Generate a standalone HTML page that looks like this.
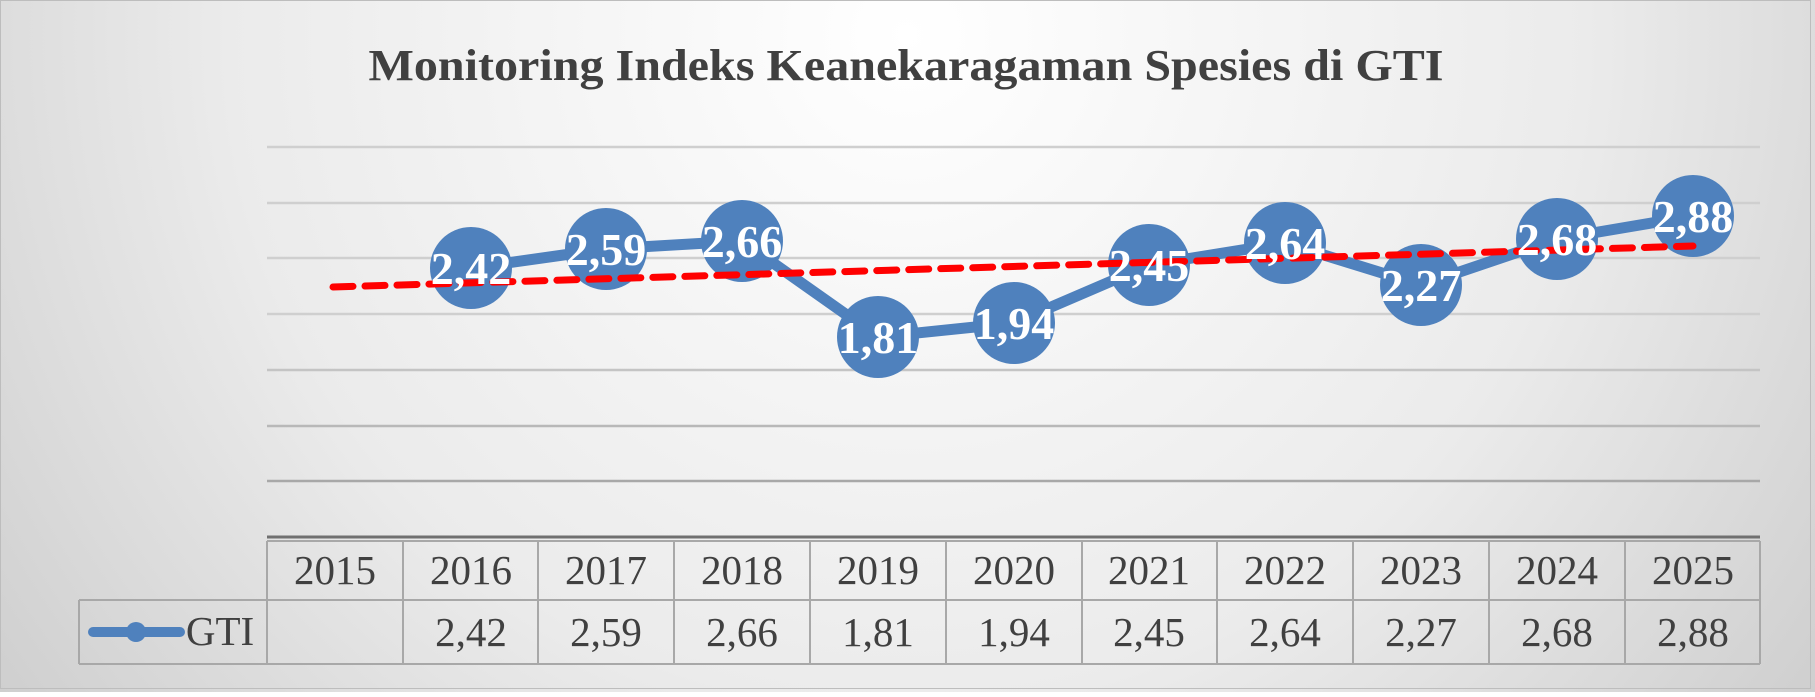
<!DOCTYPE html>
<html><head><meta charset="utf-8"><style>
html,body{margin:0;padding:0;}
body{width:1815px;height:692px;overflow:hidden;}
</style></head><body>
<svg width="1815" height="692" xmlns="http://www.w3.org/2000/svg" font-family="Liberation Serif, serif">
<defs>
<radialGradient id="bg" cx="0.5" cy="0.05" r="0.75" gradientTransform="translate(0.5 0.05) scale(1 2.6) translate(-0.5 -0.05)">
<stop offset="0" stop-color="#ffffff"/>
<stop offset="0.5" stop-color="#ebebeb"/>
<stop offset="1" stop-color="#c0c0c0"/>
</radialGradient>
</defs>
<rect x="0" y="0" width="1815" height="692" fill="url(#bg)"/>
<rect x="0.5" y="0.5" width="1810" height="688" fill="none" stroke="#bdbdbd"/>
<text x="906" y="80" text-anchor="middle" font-size="44" font-weight="bold" fill="#404040" textLength="1075" lengthAdjust="spacingAndGlyphs">Monitoring Indeks Keanekaragaman Spesies di GTI</text>
<g stroke="#cfcfcf" stroke-width="2.5">
<line x1="267" x2="1760" y1="147" y2="147"/>
<line x1="267" x2="1760" y1="203" y2="203"/>
<line x1="267" x2="1760" y1="258" y2="258"/>
<line x1="267" x2="1760" y1="314" y2="314"/>
<line x1="267" x2="1760" y1="370" y2="370" stroke="#c4c4c4"/>
<line x1="267" x2="1760" y1="426" y2="426" stroke="#b8b8b8"/>
<line x1="267" x2="1760" y1="481" y2="481" stroke="#a8a8a8"/>
</g>
<line x1="267" x2="1760" y1="537" y2="537" stroke="#707070" stroke-width="3"/>
<g stroke="#a8a8a8" stroke-width="2" fill="none">
<line x1="267" x2="1760" y1="541" y2="541"/>
<line x1="79" x2="1760" y1="600" y2="600"/>
<line x1="79" x2="1760" y1="664" y2="664"/>
<line x1="79" x2="79" y1="600" y2="664"/>
<line x1="267" x2="267" y1="541" y2="664"/>
<line x1="403" x2="403" y1="541" y2="664"/>
<line x1="538" x2="538" y1="541" y2="664"/>
<line x1="674" x2="674" y1="541" y2="664"/>
<line x1="810" x2="810" y1="541" y2="664"/>
<line x1="946" x2="946" y1="541" y2="664"/>
<line x1="1082" x2="1082" y1="541" y2="664"/>
<line x1="1217" x2="1217" y1="541" y2="664"/>
<line x1="1353" x2="1353" y1="541" y2="664"/>
<line x1="1489" x2="1489" y1="541" y2="664"/>
<line x1="1625" x2="1625" y1="541" y2="664"/>
<line x1="1760" x2="1760" y1="541" y2="664"/>
</g>
<g font-size="41" fill="#404040" text-anchor="middle">
<text x="335" y="584">2015</text><text x="471" y="584">2016</text><text x="606" y="584">2017</text><text x="742" y="584">2018</text><text x="878" y="584">2019</text><text x="1014" y="584">2020</text><text x="1149" y="584">2021</text><text x="1285" y="584">2022</text><text x="1421" y="584">2023</text><text x="1557" y="584">2024</text><text x="1693" y="584">2025</text>
<text x="471" y="646">2,42</text><text x="606" y="646">2,59</text><text x="742" y="646">2,66</text><text x="878" y="646">1,81</text><text x="1014" y="646">1,94</text><text x="1149" y="646">2,45</text><text x="1285" y="646">2,64</text><text x="1421" y="646">2,27</text><text x="1557" y="646">2,68</text><text x="1693" y="646">2,88</text>
<text x="220" y="645" text-anchor="middle">GTI</text>
</g>
<line x1="93" x2="180" y1="632" y2="632" stroke="#4f81bd" stroke-width="10" stroke-linecap="round"/>
<circle cx="136" cy="632" r="10" fill="#4f81bd"/>
<polyline fill="none" stroke="#4f81bd" stroke-width="11" stroke-linejoin="round" points="471,268 606,249 742,241 878,337 1014,323 1149,265 1285,243 1421,285 1557,239 1693,216"/>
<g fill="#4f81bd">
<circle cx="471" cy="268" r="41"/><circle cx="606" cy="249" r="41"/><circle cx="742" cy="241" r="41"/><circle cx="878" cy="337" r="41"/><circle cx="1014" cy="323" r="41"/><circle cx="1149" cy="265" r="41"/><circle cx="1285" cy="243" r="41"/><circle cx="1421" cy="285" r="41"/><circle cx="1557" cy="239" r="41"/><circle cx="1693" cy="216" r="41"/>
</g>
<line x1="333" y1="287" x2="1693" y2="246" stroke="#ff0000" stroke-width="7" stroke-dasharray="20 12" stroke-linecap="round"/>
<g font-size="46" font-weight="bold" fill="#ffffff" text-anchor="middle">
<text x="471" y="284">2,42</text><text x="606" y="265">2,59</text><text x="742" y="257">2,66</text><text x="878" y="353">1,81</text><text x="1014" y="339">1,94</text><text x="1149" y="281">2,45</text><text x="1285" y="259">2,64</text><text x="1421" y="301">2,27</text><text x="1557" y="255">2,68</text><text x="1693" y="232">2,88</text>
</g>
</svg>
</body></html>
